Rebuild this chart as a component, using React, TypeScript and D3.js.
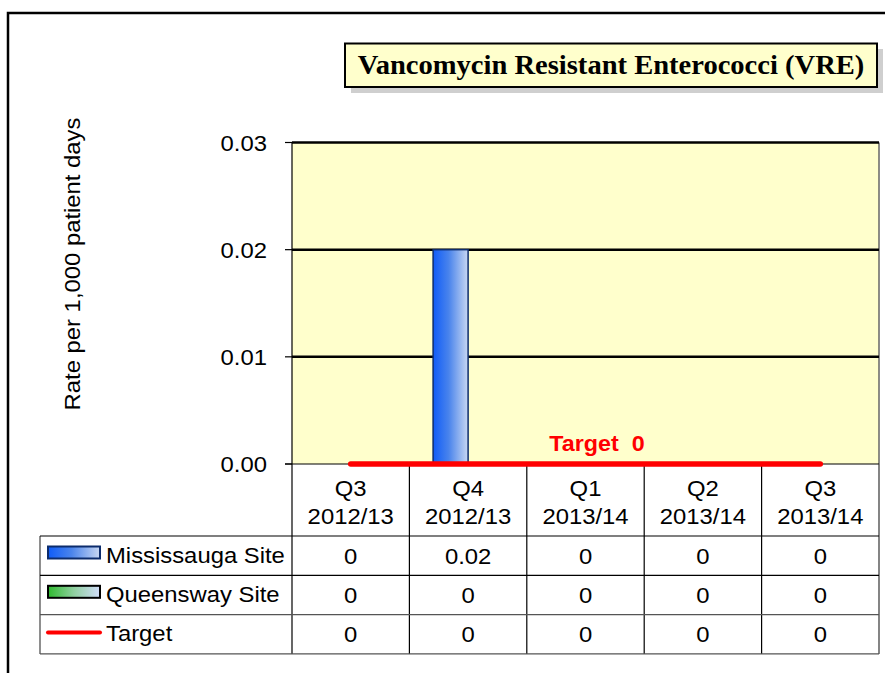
import React from "react";
import * as d3 from "d3";

const categories = ["Q3 2012/13", "Q4 2012/13", "Q1 2013/14", "Q2 2013/14", "Q3 2013/14"];
const seriesNames = ["Mississauga Site", "Queensway Site"];
const mississauga = [0, 0.02, 0, 0, 0];
const queensway = [0, 0, 0, 0, 0];
const target = [0, 0, 0, 0, 0];
const yTicks = [0, 0.01, 0.02, 0.03];

const W = 885;
const H = 673;
const SX = 1.06; // the reference text is a touch wide
const SANS = "'Liberation Sans', Arial, sans-serif";
const SERIF = "'Liberation Serif', 'Times New Roman', serif";

const plot = { left: 292, right: 879, top: 142.5, bottom: 464 };
const table = { left: 40, rowTop: 536, rowH: 39.3 };

function T({ x, y, anchor = "middle", size = 22.5, weight = "normal", fill = "#000", family = SANS, rotate = 0, sx = SX, children }: any) {
  return (
    <text
      transform={`translate(${x},${y})${rotate ? ` rotate(${rotate})` : ""} scale(${sx},1)`}
      textAnchor={anchor}
      fontSize={size}
      fontWeight={weight}
      fill={fill}
      fontFamily={family}
    >
      {children}
    </text>
  );
}

export default function App() {
  const x = d3.scaleBand<string>().domain(categories).range([plot.left, plot.right]);
  const inner = d3
    .scaleBand<string>()
    .domain(seriesNames)
    .range([0, x.bandwidth()])
    .paddingOuter(0.677);
  const y = d3.scaleLinear().domain([0, 0.03]).range([plot.bottom, plot.top]);

  const seriesData = [mississauga, queensway];
  const fills = ["url(#gBlue)", "url(#gGreen)"];
  const strokes = ["#0c2c6c", "#000"];

  const targetLine = d3
    .line<number>()
    .x((_, i) => x(categories[i])! + x.bandwidth() / 2)
    .y((d) => y(d));

  const rows = [
    { name: "Mississauga Site", values: mississauga },
    { name: "Queensway Site", values: queensway },
    { name: "Target", values: target },
  ];
  const tableBottom = table.rowTop + table.rowH * rows.length;

  return (
    <svg width={W} height={H} style={{ position: "absolute", left: 0, top: 0, background: "#fff" }}>
      <defs>
        <linearGradient id="gBlue" x1="0" x2="1" y1="0" y2="0">
          <stop offset="0" stopColor="#0f5cf8" />
          <stop offset="0.45" stopColor="#4a84ec" />
          <stop offset="1" stopColor="#c9d8f2" />
        </linearGradient>
        <linearGradient id="gGreen" x1="0" x2="1" y1="0" y2="0">
          <stop offset="0" stopColor="#2fba2f" />
          <stop offset="0.5" stopColor="#90d0a0" />
          <stop offset="1" stopColor="#d2ddfa" />
        </linearGradient>
      </defs>

      {/* outer frame */}
      <rect x={8} y={13} width={W + 20} height={H + 20} fill="none" stroke="#000" strokeWidth={2.5} />

      {/* title */}
      <rect x={351} y={49} width={532} height={44} fill="#cfcfcf" />
      <rect x={345} y={43.5} width={532} height={43.5} fill="#ffffcc" stroke="#000" strokeWidth={2} />
      <T x={611} y={74} size={28} weight="bold" family={SERIF} sx={1.02}>
        Vancomycin Resistant Enterococci (VRE)
      </T>

      {/* plot area */}
      <rect x={plot.left} y={plot.top} width={plot.right - plot.left} height={plot.bottom - plot.top} fill="#ffffcc" />
      <line x1={plot.right} x2={plot.right} y1={plot.top} y2={plot.bottom} stroke="#666" strokeWidth={1.5} />
      {yTicks.filter((t) => t > 0).map((t) => (
        <line key={t} x1={plot.left} x2={plot.right} y1={y(t)} y2={y(t)} stroke="#000" strokeWidth={2.5} />
      ))}

      {/* bars */}
      {seriesData.map((vals, s) =>
        vals.map((v, i) =>
          v > 0 ? (
            <rect
              key={`${s}-${i}`}
              x={x(categories[i])! + inner(seriesNames[s])!}
              y={y(v)}
              width={inner.bandwidth()}
              height={y(0) - y(v)}
              fill={fills[s]}
              stroke={strokes[s]}
              strokeWidth={1.5}
            />
          ) : null
        )
      )}

      {/* y axis */}
      <line x1={plot.left} x2={plot.left} y1={plot.top} y2={plot.bottom} stroke="#000" strokeWidth={1.2} />
      {yTicks.map((t) => (
        <g key={t}>
          <line x1={plot.left - 7} x2={plot.left} y1={y(t)} y2={y(t)} stroke="#000" strokeWidth={1.2} />
          <T x={267} y={y(t) + 8} anchor="end">
            {d3.format(".2f")(t)}
          </T>
        </g>
      ))}
      <T x={80} y={264} rotate={-90}>
        Rate per 1,000 patient days
      </T>

      {/* data table */}
      <line x1={plot.left - 7} x2={plot.right} y1={plot.bottom} y2={plot.bottom} stroke="#000" strokeWidth={1.2} />
      {categories.map((c) => {
        const [q, yr] = c.split(" ");
        const cx = x(c)! + x.bandwidth() / 2;
        return (
          <g key={c}>
            <T x={cx} y={496}>{q}</T>
            <T x={cx} y={524}>{yr}</T>
          </g>
        );
      })}
      {d3.range(categories.length + 1).map((i) => {
        const lx = i < categories.length ? x(categories[i])! : plot.right;
        return <line key={i} x1={lx} x2={lx} y1={plot.bottom} y2={tableBottom} stroke={i === categories.length ? "#333" : "#000"} strokeWidth={1.2} />;
      })}
      <line x1={table.left} x2={table.left} y1={table.rowTop} y2={tableBottom} stroke="#444" strokeWidth={1.2} />
      {d3.range(rows.length + 1).map((r) => (
        <line
          key={r}
          x1={table.left}
          x2={plot.right}
          y1={table.rowTop + r * table.rowH}
          y2={table.rowTop + r * table.rowH}
          stroke={r >= 2 ? "#555" : "#000"}
          strokeWidth={1.2}
        />
      ))}
      {rows.map((row, r) => {
        const top = table.rowTop + r * table.rowH;
        const base = top + table.rowH / 2 + 8;
        return (
          <g key={row.name}>
            {r < 2 ? (
              <rect x={48} y={top + 10.5} width={52} height={12} fill={fills[r]} stroke={strokes[r]} strokeWidth={2} />
            ) : (
              <line x1={48} x2={100} y1={top + 18} y2={top + 18} stroke="#ff0000" strokeWidth={4} strokeLinecap="round" />
            )}
            <T x={106} y={base - 1} anchor="start">{row.name}</T>
            {row.values.map((v, i) => (
              <T key={i} x={x(categories[i])! + x.bandwidth() / 2} y={base}>
                {String(v)}
              </T>
            ))}
          </g>
        );
      })}

      {/* target (drawn on top of the axis line) */}
      <path d={targetLine(target)!} fill="none" stroke="#ff0000" strokeWidth={5.5} strokeLinecap="round" />
      <T x={597} y={451} weight="bold" fill="#ff0000" size={22}>
        {"Target\u00a0\u00a00"}
      </T>
    </svg>
  );
}
